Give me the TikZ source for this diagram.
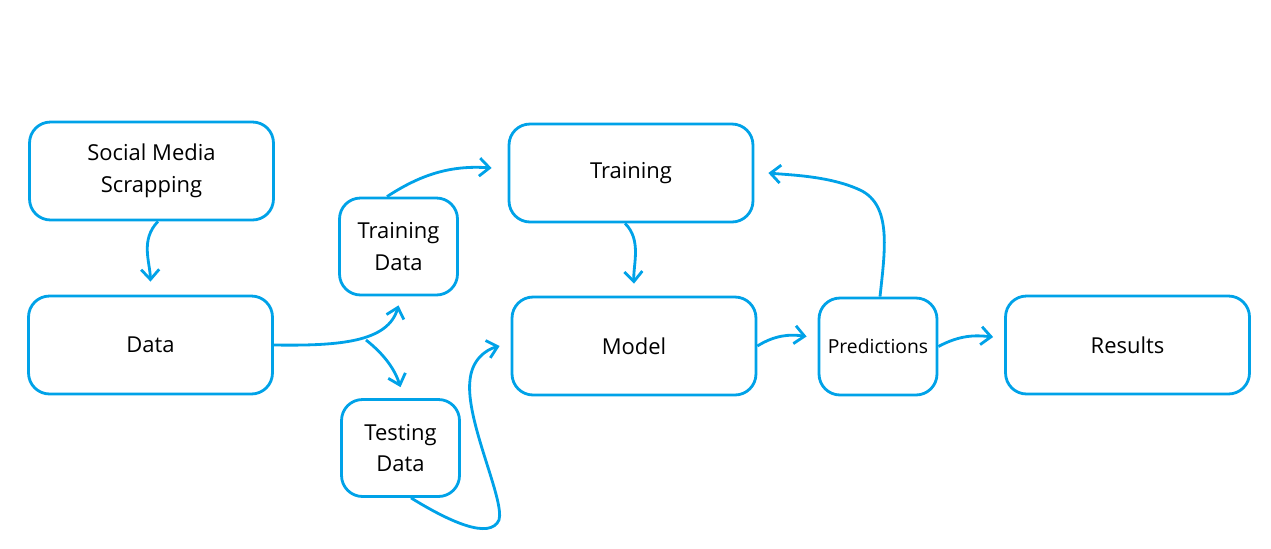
\documentclass[tikz,border=0pt]{standalone}
\usepackage{fontspec}
\setmainfont{Open Sans}
\usetikzlibrary{arrows.meta}
\definecolor{flowblue}{RGB}{0,162,232}
\begin{document}
\begin{tikzpicture}[x=0.02cm,y=-0.02cm,
  box/.style={draw=flowblue,line width=1.6pt,rounded corners=0.42cm,align=center,
    minimum width=4.88cm,minimum height=1.96cm,font=\fontsize{12.5}{18}\selectfont},
  smallbox/.style={box,minimum width=2.36cm,minimum height=1.94cm},
  flow/.style={draw=flowblue,line width=1.6pt,-{Straight Barb[length=2mm,width=3.6mm]}}]
\useasboundingbox (0,0) rectangle (1271,548);
%----------------boxes----------
\node[box] (soc) at (151.5,171){Social Media\\Scrapping};
\node[box] (data) at (150.5,345){Data};
\node[smallbox] (trdata) at (398.5,246.5){Training\\Data};
\node[smallbox] (tsdata) at (400.5,448){Testing\\Data};
\node[box] (train) at (631,173){Training};
\node[box] (model) at (634,346){Model};
\node[smallbox,font=\fontsize{11}{13}\selectfont] (pred) at (878,346.5){Predictions};
\node[box] (res) at (1127.5,345){Results};
%----------------arrows----------
\coordinate (fork) at (366,340);
\draw[flow] ([xshift=0.13cm]soc.south) .. controls (140,240) and (150,262) .. ([yshift=0.26cm]data.north);
\draw[flow] (data.east) .. controls (340,346) and (388,342) .. ([yshift=-0.18cm]trdata.south);
\draw[flow] (fork) .. controls (385,355) and (395,370) .. ([yshift=0.22cm]tsdata.north);
\draw[flow] ([xshift=-0.23cm]trdata.north) .. controls (420,175) and (450,165) .. ([xshift=-0.32cm,yshift=0.1cm]train.west);
\draw[flow] ([xshift=0.21cm]tsdata.south) .. controls (450,522) and (490,540) .. (499,520)
  .. controls (505,500) and (465,420) .. (470,380) .. controls (472,360) and (485,350) .. ([xshift=-0.22cm]model.west);
\draw[flow] ([xshift=-0.12cm]train.south) .. controls (642,240) and (633,265) .. ([yshift=0.24cm]model.north);
\draw[flow] (model.east) .. controls (775,335) and (790,334) .. ([xshift=-0.22cm,yshift=0.2cm]pred.west);
\draw[flow] ([xshift=0.04cm]pred.north) .. controls (885,250) and (892,205) .. (860,190)
  .. controls (830,176) and (790,175) .. ([xshift=0.28cm]train.east);
\draw[flow] (pred.east) .. controls (960,335) and (975,335) .. ([xshift=-0.22cm,yshift=0.16cm]res.west);
\end{tikzpicture}
\end{document}
